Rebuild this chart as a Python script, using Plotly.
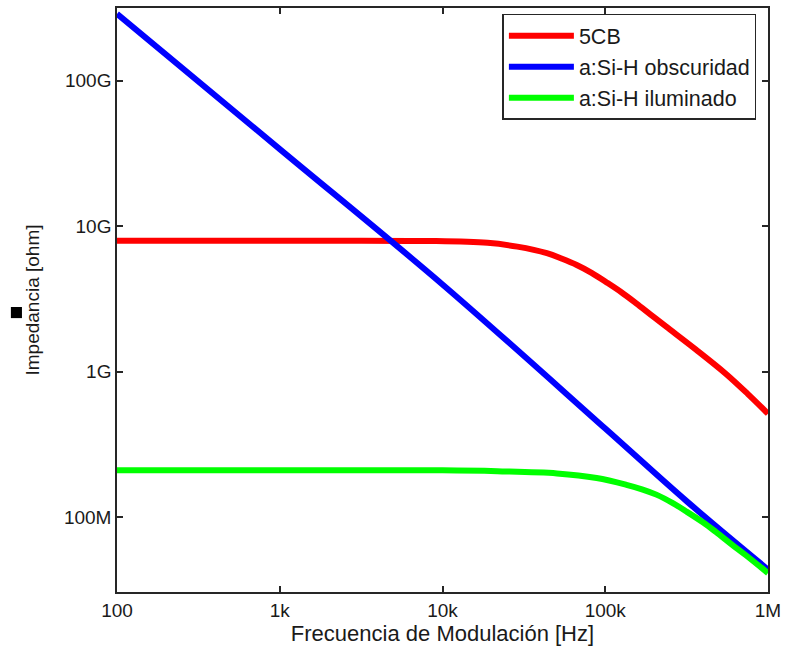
import plotly.graph_objects as go

# ---- data ----
freq_5cb = [100, 1000, 8130, 18900, 28800, 43800, 54300, 66800, 82400, 102000, 125000,
            155000, 190000, 237000, 361000, 550000, 750000, 1000000]
z_5cb = [7.95e9, 7.95e9, 7.92e9, 7.69e9, 7.24e9, 6.53e9, 5.97e9, 5.41e9, 4.78e9, 4.11e9, 3.53e9,
         2.95e9, 2.47e9, 2.04e9, 1.42e9, 9.7e8, 7.05e8, 5.15e8]

freq_dark = [100, 1000, 10000, 100000, 316000, 1000000]
z_dark = [2.88e11, 3.39e10, 3.98e9, 4.07e8, 1.29e8, 4.37e7]

freq_light = [100, 10000, 21700, 50500, 88500, 135000, 170000, 206000, 260000, 313000,
              400000, 478000, 600000, 728000, 1000000]
z_light = [2.1e8, 2.1e8, 2.07e8, 2.0e8, 1.86e8, 1.67e8, 1.55e8, 1.43e8, 1.25e8, 1.10e8,
           9.2e7, 7.93e7, 6.49e7, 5.5e7, 4.13e7]

series_names = ["5CB", "a:Si-H obscuridad", "a:Si-H iluminado"]
series_colors = ["#ff0000", "#0000ff", "#00ff00"]

x_tickvals = [100, 1e3, 1e4, 1e5, 1e6]
x_ticktext = ["100", "1k", "10k", "100k", "1M"]
y_tickvals = [1e8, 1e9, 1e10, 1e11]
y_ticktext = ["100M", "1G", "10G", "100G"]

x_title = "Frecuencia de Modulación [Hz]"
y_title = "Impedancia [ohm]"

FONT = "Liberation Sans, Arial, sans-serif"
TXT = "#1a1a1a"

fig = go.Figure()
for i, (fx, fz, name, color) in enumerate(zip([freq_5cb, freq_dark, freq_light], [z_5cb, z_dark, z_light],
                                              series_names, series_colors)):
    fig.add_trace(go.Scatter(x=fx, y=fz, mode="lines", name=name, legendgroup=f"g{i}",
                             line=dict(color=color, width=6, shape="spline", smoothing=1.0)))

axis_common = dict(showgrid=False, zeroline=False, showline=True, linecolor="#262626",
                   linewidth=1.5, mirror="ticks", ticks="inside", ticklen=6,
                   tickcolor="#262626", tickwidth=1.5,
                   tickfont=dict(family=FONT, size=19, color=TXT))

fig.update_xaxes(type="log", range=[2, 6], tickvals=x_tickvals, ticktext=x_ticktext,
                 title=dict(text=x_title, font=dict(family=FONT, size=22, color=TXT), standoff=5),
                 **axis_common)
fig.update_yaxes(type="log", range=[7.486, 11.5], tickvals=y_tickvals, ticktext=y_ticktext,
                 title=dict(text=y_title, font=dict(family=FONT, size=19, color=TXT), standoff=19),
                 **axis_common)

fig.add_shape(type="rect", xref="paper", yref="paper", x0=-0.163, x1=-0.146, y0=0.469, y1=0.488,
              fillcolor="black", line=dict(width=0))

fig.update_layout(
    width=787, height=652,
    margin=dict(l=117, r=14, t=6, b=60),
    paper_bgcolor="white", plot_bgcolor="white",
    font=dict(family=FONT, color=TXT),
    legend=dict(x=0.592, y=0.99, xanchor="left", yanchor="top",
                bgcolor="white", bordercolor="#262626", borderwidth=1.5,
                font=dict(family=FONT, size=21.5, color=TXT),
                itemwidth=65, tracegroupgap=0, entrywidth=258, entrywidthmode="pixels"),
    showlegend=True,
)

fig.write_html("out.html")
